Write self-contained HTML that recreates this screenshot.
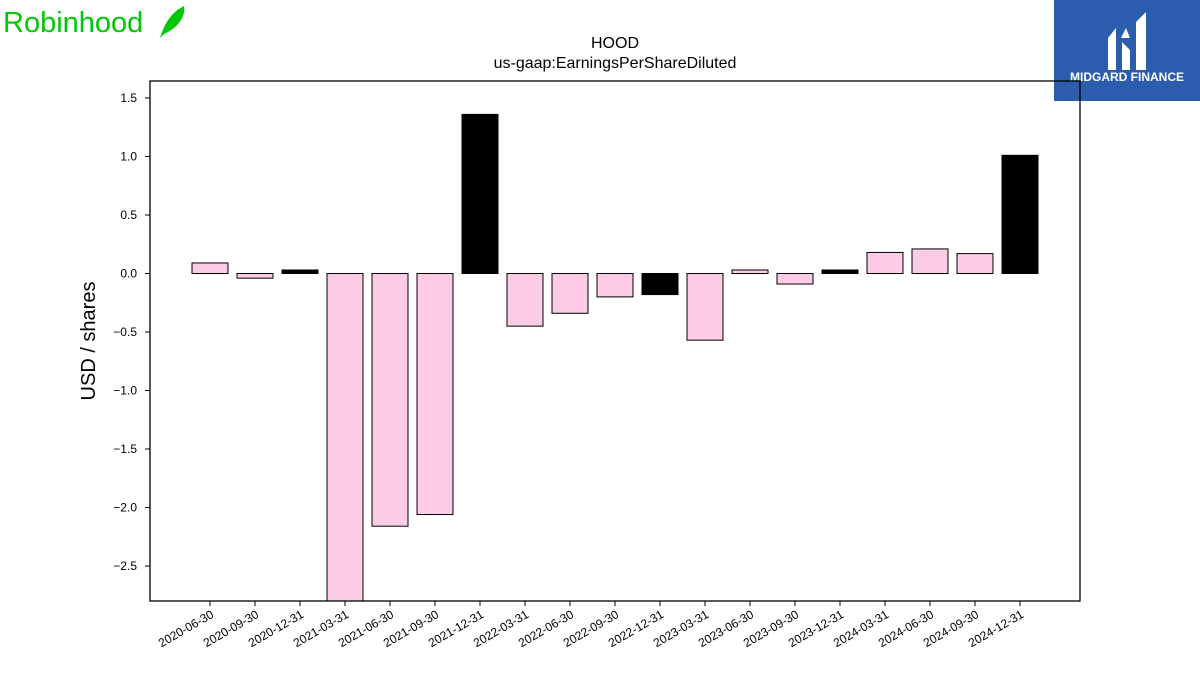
<!DOCTYPE html>
<html><head><meta charset="utf-8"><style>
body{margin:0;width:1200px;height:675px;background:#fff;overflow:hidden;font-family:"Liberation Sans","DejaVu Sans",sans-serif}
</style></head><body>
<svg id="chart" width="1200" height="675" xmlns="http://www.w3.org/2000/svg">
<text x="3" y="32" font-size="29" fill="#00c805" font-family="Liberation Sans, sans-serif">Robinhood</text>
<path d="M160 38 C165 22 172 12 184 6 C186 16 178 28 164 34 Z" fill="#00c805"/>
<g>
<rect x="1054" y="0" width="146" height="101" fill="#2b5cad"/>
<path d="M1108 70 L1108 38 L1116 28 L1116 70 Z M1122 70 L1122 42 L1130 50 L1130 70 Z M1136 70 L1136 22 L1146 12 L1146 70 Z M1121 38 L1126 28 L1130 38 Z" fill="#fff"/>
<text x="1127" y="81" font-size="12" font-weight="bold" fill="#fff" text-anchor="middle">MIDGARD FINANCE</text>
</g>
<text x="615" y="48" font-size="16" text-anchor="middle">HOOD</text>
<text x="615" y="68" font-size="16" text-anchor="middle">us-gaap:EarningsPerShareDiluted</text>
<text transform="translate(95,341) rotate(-90)" font-size="20" text-anchor="middle">USD / shares</text>
<g id="plot"></g>
<rect x="150" y="81" width="930" height="520" fill="none" stroke="#000" stroke-width="1.3"/>
</svg>
<script>
const categories=["2020-06-30","2020-09-30","2020-12-31","2021-03-31","2021-06-30","2021-09-30","2021-12-31","2022-03-31","2022-06-30","2022-09-30","2022-12-31","2023-03-31","2023-06-30","2023-09-30","2023-12-31","2024-03-31","2024-06-30","2024-09-30","2024-12-31"];
const values=[0.09,-0.04,0.03,-3.0,-2.16,-2.06,1.36,-0.45,-0.34,-0.20,-0.18,-0.57,0.03,-0.09,0.03,0.18,0.21,0.17,1.01];
const annual=[false,false,true,false,false,false,true,false,false,false,true,false,false,false,true,false,false,false,true];
const yTicks=[1.5,1.0,0.5,0.0,-0.5,-1.0,-1.5,-2.0,-2.5];
const y=v=>273.5-v*117;
const x=i=>210+i*45;
const g=document.getElementById('plot');
const NS="http://www.w3.org/2000/svg";
const clipY=v=>Math.max(81,Math.min(601,y(v)));
values.forEach((v,i)=>{
  const r=document.createElementNS(NS,'rect');
  const a=clipY(0),b=clipY(v);
  r.setAttribute('x',x(i)-18);r.setAttribute('width',36);
  r.setAttribute('y',Math.min(a,b));r.setAttribute('height',Math.max(1,Math.abs(b-a)));
  r.setAttribute('fill',annual[i]?'#000':'#fccce6');r.setAttribute('stroke','#000');r.setAttribute('stroke-width','1');
  
  
  g.appendChild(r);
  const t=document.createElementNS(NS,'line');
  t.setAttribute('x1',x(i));t.setAttribute('x2',x(i));t.setAttribute('y1',601);t.setAttribute('y2',606);t.setAttribute('stroke','#000');
  
  
  g.appendChild(t);
  const l=document.createElementNS(NS,'text');
  l.setAttribute('transform',`translate(${x(i)+3},${614}) rotate(-30)`);
  l.setAttribute('text-anchor','end');l.setAttribute('font-size','12');l.setAttribute('dominant-baseline','middle');
  l.textContent=categories[i];
  
  
  g.appendChild(l);
});
yTicks.forEach(v=>{
  const t=document.createElementNS(NS,'line');
  t.setAttribute('x1',145);t.setAttribute('x2',150);t.setAttribute('y1',y(v));t.setAttribute('y2',y(v));t.setAttribute('stroke','#000');
  
  
  g.appendChild(t);
  const l=document.createElementNS(NS,'text');
  l.setAttribute('x',137);l.setAttribute('y',y(v)+4);l.setAttribute('text-anchor','end');l.setAttribute('font-size','12');
  l.textContent=(v<0?'\u2212':'')+Math.abs(v).toFixed(1);
  
  
  g.appendChild(l);
});
</script>
</body></html>
